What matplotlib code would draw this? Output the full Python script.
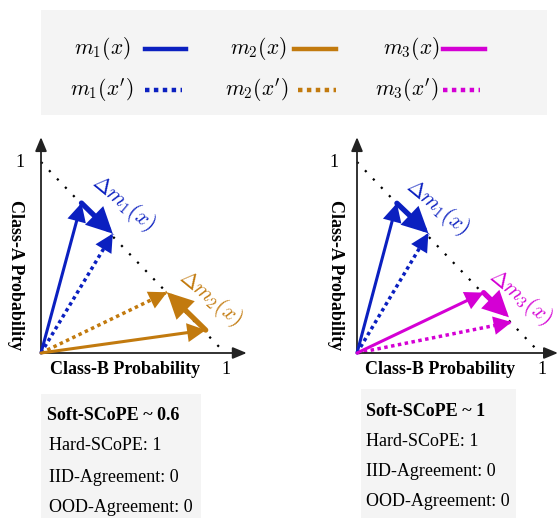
import matplotlib
matplotlib.use("Agg")
import matplotlib.pyplot as plt
from matplotlib.patches import Rectangle
from matplotlib.lines import Line2D

plt.rcParams['font.family'] = ['Liberation Serif', 'DejaVu Serif']
plt.rcParams['mathtext.fontset'] = 'cm'

W, H = 560, 518

# ---------------- data ----------------
BLUE = '#0b20c0'
ORANGE = '#c27a0e'
MAGENTA = '#d400d4'

legend_labels = [r'$m_1(x)$', r'$m_2(x)$', r'$m_3(x)$',
                 r"$m_1(x')$", r"$m_2(x')$", r"$m_3(x')$"]
legend_colors = [BLUE, ORANGE, MAGENTA, BLUE, ORANGE, MAGENTA]
legend_dotted = [False, False, False, True, True, True]

# left panel: (class-B prob, class-A prob)
left_m1_x = (0.22, 0.785)
left_m1_xp = (0.39, 0.625)
left_m2_x = (0.895, 0.12)
left_m2_xp = (0.685, 0.318)
# right panel
right_m1_x = (0.218, 0.784)
right_m1_xp = (0.39, 0.627)
right_m3_x = (0.692, 0.316)
right_m3_xp = (0.845, 0.162)

left_info = ['Soft-SCoPE ~ 0.6', 'Hard-SCoPE: 1', 'IID-Agreement: 0', 'OOD-Agreement: 0']
right_info = ['Soft-SCoPE ~ 1', 'Hard-SCoPE: 1', 'IID-Agreement: 0', 'OOD-Agreement: 0']

# ---------------- figure ----------------
fig = plt.figure(figsize=(W / 100, H / 100), dpi=100)


def frac(x0, y0, x1, y1):
    return [x0 / W, 1 - y1 / H, (x1 - x0) / W, (y1 - y0) / H]


# legend box
lax = fig.add_axes(frac(41, 10, 547, 115))
lax.set_xlim(41, 547)
lax.set_ylim(115, 10)
lax.axis('off')
lax.add_patch(Rectangle((41, 10), 506, 105, facecolor='#f4f4f4', edgecolor='none', zorder=0))
text_cx = [102, 258, 411, 102, 257, 407]
line_x = [(145, 186), (294, 336), (443, 485), (145, 182), (298, 336), (443, 480)]
row_y = [49, 49, 49, 90, 90, 90]
for lab, col, dot, cx, (x0, x1), yy in zip(legend_labels, legend_colors, legend_dotted,
                                            text_cx, line_x, row_y):
    lax.text(cx, yy, lab, fontsize=15.5, ha='center', va='center')
    lax.add_line(Line2D([x0, x1], [yy, yy], color=col, lw=3.2,
                        linestyle=(0, (1, 1)) if dot else '-'))


def arrow(ax, start, end, color, lw, dotted=False, hl=0.7, hw=0.36, ms=14):
    if dotted:
        # dotted shaft, solid head
        ax.plot([start[0], end[0]], [start[1], end[1]], color=color, lw=lw,
                linestyle=(0, (1, 1)), solid_capstyle='butt', clip_on=False)
        back = (end[0] - 0.02 * (end[0] - start[0]), end[1] - 0.02 * (end[1] - start[1]))
        ax.annotate('', xy=end, xytext=back,
                    arrowprops=dict(arrowstyle=f'-|>,head_length={hl},head_width={hw}',
                                    color=color, lw=2.0, shrinkA=0, shrinkB=0,
                                    mutation_scale=ms, joinstyle='miter'),
                    annotation_clip=False)
    else:
        ax.annotate('', xy=end, xytext=start,
                    arrowprops=dict(arrowstyle=f'-|>,head_length={hl},head_width={hw}',
                                    color=color, lw=lw, shrinkA=0, shrinkB=0,
                                    mutation_scale=ms, joinstyle='miter'),
                    annotation_clip=False)


def panel(rect, xarrow, ylab_x, ytick_x, xtick_x):
    ax = fig.add_axes(rect)
    ax.set_xlim(0, 1)
    ax.set_ylim(0, 1)
    ax.axis('off')
    # axes arrows
    ax.annotate('', xy=(xarrow, 0), xytext=(0, 0),
                arrowprops=dict(arrowstyle='-|>,head_length=0.6,head_width=0.25',
                                color='#222222', lw=1.3, shrinkA=0, shrinkB=0,
                                mutation_scale=14), annotation_clip=False)
    ax.annotate('', xy=(0, 1.13), xytext=(0, 0),
                arrowprops=dict(arrowstyle='-|>,head_length=0.6,head_width=0.25',
                                color='#222222', lw=1.3, shrinkA=0, shrinkB=0,
                                mutation_scale=14), annotation_clip=False)
    ax.plot([0, 1], [1, 0], color='black', lw=1.6, linestyle=(0, (1, 4.2)),
            clip_on=False, zorder=1)
    ax.text(0.455, -0.084, 'Class-B Probability', fontsize=13, fontweight='bold',
            ha='center', va='center')
    ax.text(ylab_x, 0.41, 'Class-A Probability', fontsize=13, fontweight='bold',
            ha='center', va='center', rotation=-90)
    ax.text(ytick_x, 0.995, '1', fontsize=13, ha='center', va='center')
    ax.text(xtick_x, -0.084, '1', fontsize=13, ha='center', va='center')
    return ax


axL = panel(frac(41, 162, 225, 353), 1.118, -0.141, -0.114, 1.005)
axR = panel(frac(357, 162, 540, 353), 1.098, -0.12, -0.126, 1.011)

O = (0, 0)
DHL, DHW = 0.9, 0.45
# left panel arrows
arrow(axL, O, left_m1_xp, BLUE, 2.5, dotted=True)
arrow(axL, O, left_m1_x, BLUE, 2.2)
arrow(axL, left_m1_x, left_m1_xp, BLUE, 3.8, hl=DHL, hw=DHW)
arrow(axL, O, left_m2_xp, ORANGE, 2.5, dotted=True)
arrow(axL, O, left_m2_x, ORANGE, 2.2)
arrow(axL, left_m2_x, left_m2_xp, ORANGE, 3.8, hl=DHL, hw=DHW)
axL.text(0.446, 0.785, r'$\Delta m_1(x)$', color=BLUE, fontsize=15.5,
         rotation=-39.5, ha='center', va='center', rotation_mode='anchor')
axL.text(0.918, 0.288, r'$\Delta m_2(x)$', color=ORANGE, fontsize=15.5,
         rotation=-39.5, ha='center', va='center', rotation_mode='anchor')

# right panel arrows
arrow(axR, O, right_m1_xp, BLUE, 2.5, dotted=True)
arrow(axR, O, right_m1_x, BLUE, 2.2)
arrow(axR, right_m1_x, right_m1_xp, BLUE, 3.8, hl=DHL, hw=DHW)
arrow(axR, O, right_m3_xp, MAGENTA, 2.5, dotted=True)
arrow(axR, O, right_m3_x, MAGENTA, 2.2)
arrow(axR, right_m3_x, (right_m3_xp[0] - 0.015, right_m3_xp[1] + 0.025), MAGENTA, 3.8,
      hl=DHL, hw=DHW)
axR.text(0.437, 0.765, r'$\Delta m_1(x)$', color=BLUE, fontsize=15.5,
         rotation=-39.5, ha='center', va='center', rotation_mode='anchor')
axR.text(0.891, 0.293, r'$\Delta m_3(x)$', color=MAGENTA, fontsize=15.5,
         rotation=-39.5, ha='center', va='center', rotation_mode='anchor')

# info boxes
def info_box(x0, y0, x1, lines, tx, ys):
    bax = fig.add_axes(frac(x0, y0, x1, H))
    bax.set_xlim(x0, x1)
    bax.set_ylim(H, y0)
    bax.axis('off')
    bax.add_patch(Rectangle((x0, y0), x1 - x0, H - y0, facecolor='#f4f4f4',
                            edgecolor='none', zorder=0))
    for i, (s, yy) in enumerate(zip(lines, ys)):
        bax.text(tx[i], yy, s, fontsize=13, ha='left', va='center',
                 fontweight='bold' if i == 0 else 'normal')


info_box(41, 394, 201, left_info, [47, 49, 49, 49], [415, 446, 477, 507])
info_box(361, 389, 516, right_info, [366, 366, 366, 366], [411, 442, 471, 502])

fig.savefig('out.png', dpi=100)
